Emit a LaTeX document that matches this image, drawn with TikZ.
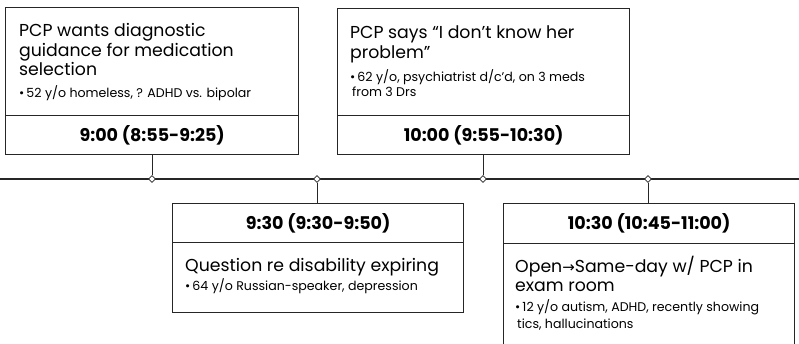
\documentclass[tikz,border=0pt]{standalone}
\usepackage{fontspec}
\setmainfont{Poppins}
\newfontfamily\symfont{DejaVu Sans}
\usetikzlibrary{shapes.geometric}
\tikzset{
  boxline/.style={draw=black!85, line width=1.3pt},
  tbox/.style={boxline, fill=white, inner sep=0pt, anchor=north west},
  ttext/.style={font=\fontsize{17.5}{20}\selectfont\bfseries, anchor=center, inner sep=0pt},
  mtext/.style={font=\fontsize{17.3}{20}\selectfont, anchor=base west, inner sep=0pt},
  btext/.style={font=\fontsize{12.6}{15}\selectfont, anchor=base west, inner sep=0pt},
  tick/.style={diamond, draw=black!85, fill=white, line width=0.6pt, inner sep=0pt, minimum width=7pt, minimum height=7pt},
  conn/.style={draw=black!85, line width=0.8pt},
}
\begin{document}
\begin{tikzpicture}[x=1pt,y=-1pt]
\useasboundingbox (0,0) rectangle (799,343);
\clip (0,0) rectangle (799,343);
% timeline
\coordinate (L) at (0,179);
\coordinate (R) at (799,179);
\draw[line width=1.5pt, black!85] (L) -- (R);
% box 1
\node[tbox, minimum width=293pt, minimum height=108pt] (b1) at (5,7) {};
\node[tbox, minimum width=293pt, minimum height=39pt] (t1) at (5,115) {};
\node[ttext] (t1l) at (t1.center) {9:00 (8:55-9:25)};
\node[mtext] (m1a) at (19,36) {PCP wants diagnostic};
\node[mtext] (m1b) at (19,56) {guidance for medication};
\node[mtext] (m1c) at (19,75) {selection};
\node[btext] (n1) at (19,97) {\textbullet\,52 y/o homeless, ? ADHD vs. bipolar};
% box 2
\node[tbox, minimum width=292pt, minimum height=107pt] (b2) at (337,8) {};
\node[tbox, minimum width=292pt, minimum height=39pt] (t2) at (337,115) {};
\node[ttext] (t2l) at (t2.center) {10:00 (9:55-10:30)};
\node[mtext] (m2a) at (350,38) {PCP says “I don’t know her};
\node[mtext] (m2b) at (350,58) {problem”};
\node[btext] (n2a) at (350,81) {\textbullet\,62 y/o, psychiatrist d/c’d, on 3 meds};
\node[btext] (n2b) at (352,96) {from 3 Drs};
% box 3
\node[tbox, minimum width=291pt, minimum height=39pt] (t3) at (172,203) {};
\node[tbox, minimum width=291pt, minimum height=70pt] (b3) at (172,242) {};
\node[ttext] (t3l) at (t3.center) {9:30 (9:30-9:50)};
\node[mtext] (m3) at (185,271) {Question re disability expiring};
\node[btext] (n3) at (185,290) {\textbullet\,64 y/o Russian-speaker, depression};
% box 4
\node[tbox, minimum width=291pt, minimum height=40pt] (t4) at (503,203) {};
\node[tbox, minimum width=291pt, minimum height=110pt] (b4) at (503,243) {};
\node[ttext] (t4l) at (t4.center) {10:30 (10:45-11:00)};
\node[mtext] (m4a) at (515,272) {Open{\symfont\fontsize{15}{20}\selectfont →}Same-day w/ PCP in};
\node[mtext] (m4b) at (515,291) {exam room};
\node[btext] (n4a) at (515,311) {\textbullet\,12 y/o autism, ADHD, recently showing};
\node[btext] (n4b) at (517,328) {tics, hallucinations};
% ticks and connectors
\node[tick] (d1) at (152,179) {};
\node[tick] (d2) at (317,179) {};
\node[tick] (d3) at (483,179) {};
\node[tick] (d4) at (648,179) {};
\draw[conn] (t1.south -| d1) -- (d1.north);
\draw[conn] (t2.south -| d3) -- (d3.north);
\draw[conn] (d2.south) -- (t3.north -| d2);
\draw[conn] (d4.south) -- (t4.north -| d4);
\end{tikzpicture}
\end{document}
